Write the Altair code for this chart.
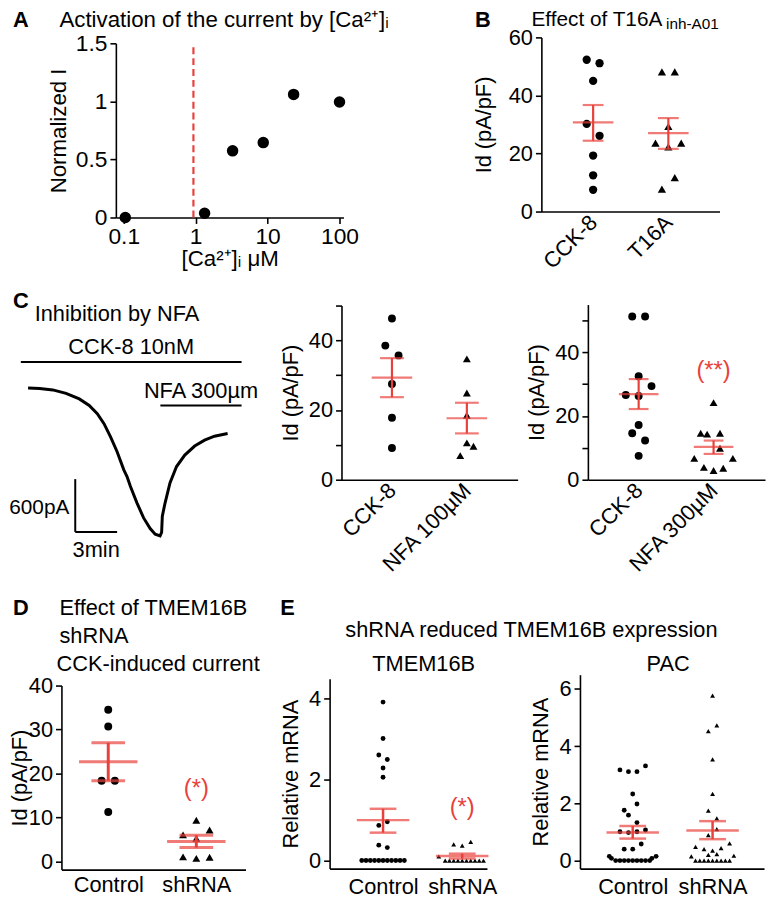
import altair as alt
import pandas as pd

FONT = "Liberation Sans"
RED = "#e8413c"
OX, OY = 8, 8          # page margin -> chart origin
W, H = 767, 892


def px(v):
    return v - OX


def py(v):
    return v - OY


# ---------------- DATA ----------------
# A: activation by [Ca2+]i
A_ca = [0.105, 1.33, 3.26, 8.7, 23.0, 100.0]
A_norm = [0.0, 0.037, 0.574, 0.645, 1.06, 0.995]
A_threshold = [0.93]

# B: effect of T16Ainh-A01
B_groups = ["CCK-8", "T16A"]
B_vals = [[52.3, 51.1, 45.0, 30.2, 26.1, 19.3, 12.5, 7.5],
          [48.1, 48.1, 29.3, 23.6, 22.3, 23.6, 11.7, 7.7]]
B_slots = [[-1, 1, 0, -1, 1, 0, 0, 0],
           [-1, 1, 0, -2, 0, 2, 1, -1]]
B_mean = [30.7, 27.0]
B_lo = [24.4, 21.6]
B_hi = [36.7, 32.2]

# C: current trace (min, pA relative to baseline)
C_time = [0, 0.83, 1.77, 2.72, 3.67, 4.38, 4.96, 5.44, 5.91, 6.38, 6.86, 7.09, 7.33,
          7.80, 8.27, 8.75, 9.11, 9.46, 9.57, 9.62, 9.82, 10.17, 10.64, 11.23, 11.94,
          12.65, 13.36, 14.3]
C_current = [0, -5, -22, -61, -124, -199, -292, -405, -556, -724, -930, -1006, -1118,
             -1305, -1474, -1597, -1661, -1681, -1642, -1456, -1305, -1080, -893, -762,
             -660, -593, -548, -517]
C_stim_names = ["CCK-8 10nM", "NFA 300µm"]
C_stim_start = [-0.52, 9.48]
C_stim_end = [15.3, 15.3]
C_stim_level = [296, -199]
C_bar_time = [3.38, 6.38]        # 3 min scale bar
C_bar_current = [-1636, -1036]   # 600 pA scale bar

# C middle: NFA 100 µM
C1_groups = ["CCK-8", "NFA 100µM"]
C1_vals = [[46.3, 38.5, 35.7, 27.5, 17.8, 9.1],
           [34.7, 24.9, 18.5, 10.6, 9.6, 6.9]]
C1_slots = [[0, -1, 1, 0, 0, 0], [0, 0, 0, 0, 1, -1]]
C1_mean = [29.3, 17.65]
C1_lo = [23.7, 13.3]
C1_hi = [34.9, 22.1]

# C right: NFA 300 µM
C2_groups = ["CCK-8", "NFA 300µM"]
C2_vals = [[51.25, 51.25, 32.5, 29.4, 26.6, 26.3, 17.2, 14.6, 12.3, 7.5],
           [24.2, 14.6, 14.3, 14.6, 9.9, 6.7, 6.7, 3.9, 2.9, 3.6]]
C2_slots = [[-1, 1, 0, 2, -2, 0, 0, -1, 1, 0],
            [0, -2, -1, 1, 1, -3, 3, -1.5, 0, 1.5]]
C2_mean = [26.9, 10.3]
C2_lo = [22.2, 8.1]
C2_hi = [31.6, 12.3]
C2_sig = ["", "(**)"]
C2_sig_y = [None, 34.0]

# D: TMEM16B shRNA, CCK-induced current
D_groups = ["Control", "shRNA"]
D_vals = [[34.5, 30.7, 18.4, 18.4, 11.3],
          [9.4, 7.2, 6.1, 5.3, 1.1, 0.75, 1.0]]
D_slots = [[0, 0, -1, 1, 0], [0, 2, -2, 0, -2, 0, 2]]
D_mean = [22.7, 4.6]
D_lo = [18.4, 3.2]
D_hi = [27.0, 6.0]
D_sig_y = 16.6

# E1: TMEM16B mRNA
E1_groups = ["Control", "shRNA"]
E1_vals = [[3.92, 3.02, 2.61, 2.50, 2.29, 2.06, 0.96, 0.87, 0.38, 0.32] + [0.0] * 11,
           [0.46, 0.37, 0.40, 0.10] + [0.0] * 10]
E1_slots = [[0, 0, -1, 1, 0, 0, 1, -1, -1, 1] + list(range(-5, 6)),
            [2, 0, -2, -5.5] + list(range(-4, 6))]
E1_mean = [1.0, 0.11]
E1_lo = [0.69, 0.05]
E1_hi = [1.28, 0.17]
E1_sig_y = 1.3

# E2: PAC mRNA
E2_groups = ["Control", "shRNA"]
E2_vals = [[3.17, 3.11, 3.11, 3.31, 2.33, 1.98, 1.76, 1.59, 1.33, 1.01, 0.98, 1.01, 1.07,
            0.58, 0.40, 0.40, 0.15, 0.08, 0.15, 0.08] + [0.0] * 9,
           [5.77, 4.53, 4.73, 3.54, 2.33, 1.75, 1.48, 1.10, 0.89, 0.48, 0.60, 0.40, 0.35,
            0.44, 0.20, 0.23, 0.15, 0.17] + [0.0] * 9]
E2_slots = [[-3, -1, 1, 3, 0, 1, -2, -1, 1, -3, -1, 1, 3, 2, -2, 0, -5.5, -5, 5.5, 4.5]
            + list(range(-4, 5)),
            [0, -1, 1, 0, 0, -1, 1, 1, -1, -4, 4, -2, 0, 2, -1, 1, -5, 5]
            + list(range(-4, 5))]
E2_mean = [0.98, 1.05]
E2_lo = [0.77, 0.75]
E2_hi = [1.21, 1.38]

# ---------------- STYLE ----------------
AXIS_STYLE = dict(domainColor="black", domainWidth=1.6, tickColor="black", tickWidth=1.6,
                  tickSize=6, labelFont=FONT, labelColor="black", titleFont=FONT,
                  titleColor="black", titleFontWeight="normal", grid=False,
                  labelFlush=False, labelOverlap=False, labelPadding=3)
NUM_LABEL = "'' + datum.value"


def y_axis(ax_x, values, title, title_cx, fs=22, tfs=22, expr=NUM_LABEL):
    kw = dict(AXIS_STYLE)
    kw.update(orient="left", offset=-px(ax_x), values=values, title=title,
              titleX=title_cx - ax_x, titleBaseline="middle", labelExpr=expr,
              labelFontSize=fs, titleFontSize=tfs)
    return alt.Axis(**kw)


def x_cat_axis(ax_y, groups, angle, pad, fs=22):
    expr = " : ".join(f"datum.value == {i} ? '{g}'" for i, g in enumerate(groups)) + " : ''"
    kw = dict(AXIS_STYLE)
    kw.update(orient="bottom", offset=py(ax_y) - H, values=list(range(len(groups))),
              labelExpr=expr, ticks=False, title=None, labelFontSize=fs, labelPadding=pad)
    if angle:
        kw.update(labelAngle=angle, labelAlign="right", labelBaseline="middle")
    else:
        kw.update(labelAngle=0, labelAlign="center", labelBaseline="top")
    return alt.Axis(**kw)


def scatter_panel(groups, vals, slots, means, los, his, P, sig=None):
    unit = P["c1"] - P["c0"]
    k = P["spacing"] / unit
    xdom = [(P["xl"] - P["c0"]) / unit, (P["xr"] - P["c0"]) / unit]
    xsc = alt.Scale(domain=xdom, range=[px(P["xl"]), px(P["xr"])], nice=False, zero=False)
    ysc = alt.Scale(domain=P["ydom"], range=[py(P["yb"]), py(P["yt"])], nice=False, zero=False)
    xa = x_cat_axis(P["yb"], groups, P.get("angle", 0), P.get("lpad", 6))
    ya = y_axis(P["xl"], P["yvals"], P["ytitle"], P["ytx"], expr=P.get("yexpr", NUM_LABEL))

    def X(f):
        return alt.X(f, type="quantitative", scale=xsc, axis=xa)

    def Y(f):
        return alt.Y(f, type="quantitative", scale=ysc, axis=ya)

    rows = []
    for gi, (g, vs, ss) in enumerate(zip(groups, vals, slots)):
        for v, s in zip(vs, ss):
            rows.append(dict(group=g, gi=gi, value=v, slot=s))
    pts = pd.DataFrame(rows)
    stats = pd.DataFrame(dict(group=groups, gi=list(range(len(groups))),
                              mean=means, lo=los, hi=his))

    points = alt.Chart(pts).transform_calculate(
        xpos=f"datum.gi + datum.slot * {k}",
        shp="datum.gi == 0 ? 'circle' : 'triangle-up'",
    ).mark_point(filled=True, opacity=1, color="black", size=P["size"]).encode(
        x=X("xpos"), y=Y("value"), shape=alt.Shape("shp:N", scale=None))
    vline = alt.Chart(stats).mark_rule(color=RED, strokeWidth=P["lw"]).encode(
        x=X("gi"), y=Y("lo"), y2="hi")
    mline = alt.Chart(stats).mark_tick(orient="horizontal", color=RED, size=P["mw"],
                                       thickness=P["lw"]).encode(x=X("gi"), y=Y("mean"))
    lcap = alt.Chart(stats).mark_tick(orient="horizontal", color=RED, size=P["cw"],
                                      thickness=P["lw"]).encode(x=X("gi"), y=Y("lo"))
    hcap = alt.Chart(stats).mark_tick(orient="horizontal", color=RED, size=P["cw"],
                                      thickness=P["lw"]).encode(x=X("gi"), y=Y("hi"))
    layers = [points, vline, mline, lcap, hcap]
    if sig is not None:
        sdf = pd.DataFrame(dict(gi=[sig[0]], y=[sig[1]], t=[sig[2]]))
        layers.append(alt.Chart(sdf).mark_text(color=RED, font=FONT, fontSize=24,
                                               baseline="middle").encode(
            x=X("gi"), y=Y("y"), text="t:N"))
    return alt.layer(*layers)


def label(text, x, y, size=22, weight="normal", align="left", color="black"):
    return alt.Chart(pd.DataFrame({"k": [0]})).mark_text(
        text=text, font=FONT, fontSize=size, fontWeight=weight, align=align,
        baseline="middle", color=color).encode(x=alt.value(px(x)), y=alt.value(py(y)))


# ---------------- PANEL A ----------------
a_xsc = alt.Scale(type="log", domain=[0.0776, 113.5], range=[px(117), px(347)], nice=False)
a_ysc = alt.Scale(domain=[0, 1.5], range=[py(215), py(39)], nice=False, zero=False)
a_xa = alt.Axis(**dict(AXIS_STYLE, orient="bottom", offset=py(215) - H,
                       values=[0.1, 1, 10, 100], labelExpr=NUM_LABEL, labelFontSize=23,
                       title="[Ca²⁺]ᵢ μM", titleFontSize=22.5, titleY=42,
                       titleBaseline="middle", labelPadding=2))
a_ya = y_axis(117, [0, 0.5, 1, 1.5], "Normalized I", 59, fs=23, tfs=22.5)
A_df = pd.DataFrame(dict(ca=A_ca, norm=A_norm))
A_thr = pd.DataFrame(dict(ca=A_threshold, y0=[0.0], y1=[1.5]))
panelA = alt.layer(
    alt.Chart(A_thr).mark_rule(color=RED, strokeWidth=2.2, strokeDash=[7, 4]).encode(
        x=alt.X("ca:Q", scale=a_xsc, axis=a_xa),
        y=alt.Y("y0:Q", scale=a_ysc, axis=a_ya), y2="y1"),
    alt.Chart(A_df).mark_circle(size=135, color="black", opacity=1).encode(
        x=alt.X("ca:Q", scale=a_xsc, axis=a_xa),
        y=alt.Y("norm:Q", scale=a_ysc, axis=a_ya)),
)

# ---------------- PANEL B ----------------
panelB = scatter_panel(B_groups, B_vals, B_slots, B_mean, B_lo, B_hi, dict(
    xl=547, xr=727, c0=599.3, c1=675.3, yb=209, yt=33, ydom=[0, 60],
    yvals=[0, 20, 40, 60], ytitle="Id (pA/pF)", ytx=489, spacing=6.5,
    size=70, lw=2.2, mw=41, cw=21, angle=315, lpad=7))

# ---------------- PANEL C trace ----------------
t_sc = alt.Scale(domain=[-1, 16], range=[px(28.3 - 14.1), px(28.3 + 16 * 14.1)],
                 nice=False, zero=False)
i_sc = alt.Scale(domain=[-1900, 700], range=[py(387.3 + 1900 * 0.0889), py(387.3 - 700 * 0.0889)],
                 nice=False, zero=False)


def TX(f):
    return alt.X(f, type="quantitative", scale=t_sc, axis=None)


def TY(f):
    return alt.Y(f, type="quantitative", scale=i_sc, axis=None)


trace_df = pd.DataFrame(dict(t=C_time, i=C_current))
stim_df = pd.DataFrame(dict(name=C_stim_names, s=C_stim_start, e=C_stim_end, lvl=C_stim_level))
bar_df = pd.DataFrame(dict(t0=[C_bar_time[0]], t1=[C_bar_time[1]],
                           i0=[C_bar_current[0]], i1=[C_bar_current[1]]))
panelCtrace = alt.layer(
    alt.Chart(trace_df).mark_line(color="black", strokeWidth=3).encode(x=TX("t"), y=TY("i")),
    alt.Chart(stim_df).mark_rule(color="black", strokeWidth=2).encode(
        x=TX("s"), x2="e", y=TY("lvl")),
    alt.Chart(stim_df).transform_calculate(mid="(datum.s + datum.e) / 2").mark_text(
        font=FONT, fontSize=22, color="black", dy=-15, baseline="middle").encode(
        x=TX("mid"), y=TY("lvl"), text="name:N"),
    alt.Chart(bar_df).mark_rule(color="black", strokeWidth=2).encode(
        x=TX("t0"), y=TY("i0"), y2="i1"),
    alt.Chart(bar_df).mark_rule(color="black", strokeWidth=2).encode(
        x=TX("t0"), x2="t1", y=TY("i0")),
    alt.Chart(bar_df).transform_calculate(im="(datum.i0 + datum.i1) / 2", lab="'600pA'").mark_text(
        font=FONT, fontSize=21, color="black", align="right", dx=-6, dy=3,
        baseline="middle").encode(x=TX("t0"), y=TY("im"), text="lab:N"),
    alt.Chart(bar_df).transform_calculate(tm="(datum.t0 + datum.t1) / 2", lab="'3min'").mark_text(
        font=FONT, fontSize=22, color="black", dy=18, baseline="middle").encode(
        x=TX("tm"), y=TY("i0"), text="lab:N"),
)

# ---------------- PANEL C middle / right ----------------
panelC1 = scatter_panel(C1_groups, C1_vals, C1_slots, C1_mean, C1_lo, C1_hi, dict(
    xl=345, xr=523, c0=396, c1=471.7, yb=480, yt=304, ydom=[0, 50],
    yvals=[0, 10, 20, 30, 40, 50], yexpr="datum.value % 20 == 0 ? '' + datum.value : ''",
    ytitle="Id (pA/pF)", ytx=294, spacing=6.7, size=64, lw=2.2, mw=41, cw=24,
    angle=315, lpad=7))
panelC2 = scatter_panel(C2_groups, C2_vals, C2_slots, C2_mean, C2_lo, C2_hi, dict(
    xl=594, xr=773, c0=645.3, c1=721, yb=480, yt=303, ydom=[0, 55],
    yvals=[0, 10, 20, 30, 40, 50], yexpr="datum.value % 20 == 0 ? '' + datum.value : ''",
    ytitle="Id (pA/pF)", ytx=542, spacing=6.5, size=64, lw=2.2, mw=40, cw=20,
    angle=315, lpad=7), sig=(1, C2_sig_y[1], C2_sig[1]))

# ---------------- PANEL D ----------------
panelD = scatter_panel(D_groups, D_vals, D_slots, D_mean, D_lo, D_hi, dict(
    xl=62, xr=248, c0=109.3, c1=198.3, yb=874, yt=688, ydom=[-1.8, 40],
    yvals=[0, 10, 20, 30, 40], ytitle="Id (pA/pF)", ytx=20, spacing=6.7,
    size=64, lw=3, mw=59, cw=34, lpad=5), sig=(1, D_sig_y, "(*)"))

# ---------------- PANEL E ----------------
panelE1 = scatter_panel(E1_groups, E1_vals, E1_slots, E1_mean, E1_lo, E1_hi, dict(
    xl=333, xr=492, c0=387, c1=467, yb=873, yt=681, ydom=[-0.2, 4.5],
    yvals=[0, 2, 4], ytitle="Relative mRNA", ytx=294, spacing=4.3,
    size=24, lw=2.5, mw=53, cw=27, lpad=8), sig=(1, E1_sig_y, "(*)"))
panelE2 = scatter_panel(E2_groups, E2_vals, E2_slots, E2_mean, E2_lo, E2_hi, dict(
    xl=586, xr=772, c0=639.3, c1=720, yb=873, yt=677, ydom=[-0.28, 6.5],
    yvals=[0, 2, 4, 6], ytitle="Relative mRNA", ytx=546, spacing=4.3,
    size=24, lw=2.5, mw=53, cw=27, lpad=8))

# ---------------- TEXT ----------------
texts = [
    label("A", 13, 15, size=22, weight="bold"),
    label("Activation of the current by [Ca²⁺]ᵢ", 60, 15, size=22.5),
    label("B", 480, 15, size=22, weight="bold"),
    label("Effect of T16A", 537, 15, size=21),
    label("inh-A01", 673, 20, size=15.5),
    label("C", 13, 299, size=22, weight="bold"),
    label("Inhibition by NFA", 35, 313, size=22),
    label("D", 13, 610, size=22, weight="bold"),
    label("Effect of TMEM16B", 60, 610, size=22),
    label("shRNA", 60, 638, size=22),
    label("CCK-induced current", 57, 666, size=22),
    label("E", 283, 610, size=22, weight="bold"),
    label("shRNA reduced TMEM16B expression", 537, 632, size=22, align="center"),
    label("TMEM16B", 428, 666, size=22, align="center"),
    label("PAC", 675, 666, size=22, align="center"),
]

chart = alt.layer(
    panelA, panelB, panelCtrace, panelC1, panelC2, panelD, panelE1, panelE2, *texts
).resolve_scale(x="independent", y="independent").properties(
    width=W, height=H, padding=0, autosize=alt.AutoSizeParams(type="none")
).configure_view(stroke=None)

chart.save("out.html", embed_options={"renderer": "svg", "actions": False})
